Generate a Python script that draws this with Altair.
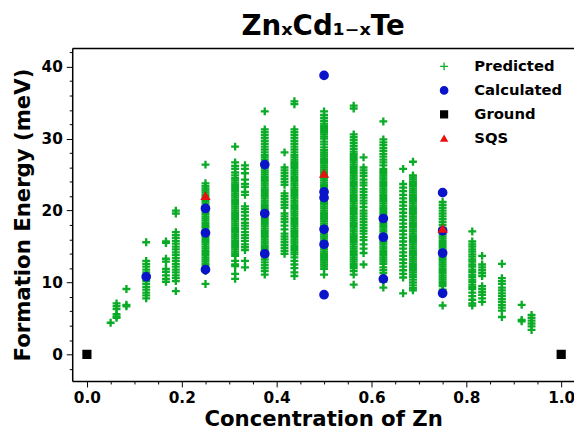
import altair as alt
import pandas as pd

title_text = "ZnₓCd₁₋ₓTe"
x_title = "Concentration of Zn"
y_title = "Formation Energy (meV)"

series_names = ["Predicted", "Calculated", "Ground", "SQS"]
series_colors = ["#0aab26", "#0a14c8", "#000000", "#e81010"]
plus_path = "M-1,0H1M0,-1V1"
series_shapes = [plus_path, "circle", "square", "triangle-up"]
series_sizes = [64, 40, 84, 46]

x_major = [0.0, 0.2, 0.4, 0.6, 0.8, 1.0]
x_minor = [0.05, 0.1, 0.15, 0.25, 0.3, 0.35, 0.45, 0.5, 0.55, 0.65, 0.7, 0.75, 0.85, 0.9, 0.95]
y_major = [0, 10, 20, 30, 40]
y_minor = [-2, 2, 4, 6, 8, 12, 14, 16, 18, 22, 24, 26, 28, 32, 34, 36, 38, 42]

# Predicted (ML) energies, one list per Zn concentration
pred_conc = [0.05, 0.0625, 0.0833, 0.125, 0.1667, 0.1875, 0.25, 0.3125, 0.3333,
             0.375, 0.4167, 0.4375, 0.5, 0.5625, 0.5833, 0.625, 0.6667, 0.6875,
             0.75, 0.8125, 0.8333, 0.875, 0.9167, 0.9375]

pred_energy = [
    [4.4],
    [7.1, 6.7, 6.3, 5.6, 5.3, 5.1],
    [9.1, 6.9, 6.7],
    [15.6, 13.0, 12.6, 12.2, 11.8, 11.4, 11.0, 10.6, 10.2, 9.8, 9.4, 9.0, 8.6, 8.2, 7.8],
    [15.7, 15.5, 13.3, 12.9, 11.9, 11.5, 11.0, 10.5, 10.1],
    [20.0, 19.6, 17.0, 16.6, 16.2, 15.8, 15.4, 15.0, 14.6, 14.2, 13.8, 13.4, 13.0,
     12.6, 12.2, 11.8, 11.4, 11.0, 10.6, 10.2, 8.8],
    [26.4, 23.8, 23.4, 23.1, 22.8, 22.5, 22.2, 21.9, 21.6, 21.3, 21.0, 20.7, 20.4,
     20.1, 19.8, 19.5, 19.2, 18.9, 18.6, 18.3, 18.0, 17.7, 17.4, 17.1, 16.8, 16.5,
     16.2, 15.9, 15.6, 15.3, 15.0, 14.7, 14.4, 14.1, 13.8, 13.5, 13.2, 12.9, 12.6,
     12.3, 12.0, 11.6, 9.8],
    [28.9, 26.7, 26.2, 25.8, 25.3, 24.9, 24.5, 24.2, 23.9, 23.6, 23.3, 23.0, 22.7,
     22.4, 22.1, 21.8, 21.5, 21.2, 20.9, 20.6, 20.3, 20.0, 19.7, 19.4, 19.1, 18.8,
     18.5, 18.2, 17.9, 17.6, 17.3, 17.0, 16.7, 16.4, 16.1, 15.8, 15.5, 15.2, 14.9,
     14.6, 14.3, 14.0, 13.7, 13.0, 12.5, 12.3, 11.2, 10.5],
    [26.3, 25.8, 25.2, 24.3, 23.7, 23.3, 22.6, 22.2, 20.6, 20.2, 19.8, 19.3, 18.8,
     18.3, 17.9, 17.5, 17.0, 16.6, 16.2, 15.8, 15.3, 14.9, 14.5, 13.0, 12.1],
    [33.8, 31.3, 30.9, 30.5, 30.1, 29.7, 29.3, 28.9, 28.5, 28.1, 27.7, 27.4, 27.1,
     26.8, 26.5, 26.2, 25.9, 25.6, 25.3, 25.0, 24.7, 24.4, 24.1, 23.8, 23.5, 23.2,
     22.9, 22.6, 22.3, 22.0, 21.7, 21.4, 21.1, 20.8, 20.5, 20.2, 19.9, 19.6, 19.3,
     19.0, 18.7, 18.4, 18.1, 17.8, 17.5, 17.2, 16.9, 16.6, 16.3, 16.0, 15.7, 15.4,
     15.1, 14.8, 14.5, 14.2, 13.9, 13.6, 13.2, 12.8, 12.4, 12.0, 11.6, 11.1],
    [28.1, 26.0, 25.6, 25.2, 24.8, 24.4, 24.0, 23.6, 22.4, 22.0, 21.6, 21.2, 20.8,
     20.4, 19.6, 19.2, 18.8, 18.4, 17.9, 17.4, 16.8, 16.4, 16.0, 15.6, 15.2, 14.8,
     14.4, 14.0],
    [35.2, 34.8, 31.3, 30.9, 30.5, 30.1, 29.7, 29.3, 28.9, 28.5, 28.1, 27.7, 27.4,
     27.1, 26.8, 26.5, 26.2, 25.9, 25.6, 25.3, 25.0, 24.7, 24.4, 24.1, 23.8, 23.5,
     23.2, 22.9, 22.6, 22.3, 22.0, 21.7, 21.4, 21.1, 20.8, 20.5, 20.2, 19.9, 19.6,
     19.3, 19.0, 18.7, 18.4, 18.1, 17.8, 17.5, 17.2, 16.9, 16.6, 16.3, 16.0, 15.7,
     15.4, 15.1, 14.8, 14.5, 14.2, 13.9, 13.5, 13.0, 12.5, 12.0, 11.4, 10.9],
    [33.8, 33.3, 32.9, 32.5, 32.1, 31.8, 31.5, 31.2, 30.9, 30.6, 30.3, 30.0, 29.6,
     29.2, 28.8, 28.4, 28.1, 27.8, 27.5, 27.2, 26.9, 26.6, 26.3, 26.0, 25.7, 25.4,
     25.1, 24.8, 24.5, 24.2, 23.9, 23.6, 23.3, 23.0, 22.7, 22.4, 22.1, 21.8, 21.5,
     21.2, 20.9, 20.6, 20.3, 20.0, 19.7, 19.4, 19.1, 18.8, 18.5, 18.2, 17.9, 17.6,
     17.3, 17.0, 16.7, 16.4, 16.1, 15.8, 15.5, 15.2, 14.9, 14.6, 14.3, 14.0, 13.7,
     13.4, 13.1, 12.8, 12.5, 12.2, 11.9, 11.1],
    [34.6, 34.2, 30.6, 30.2, 29.8, 29.4, 29.0, 28.6, 28.2, 27.9, 27.6, 27.3, 27.0,
     26.7, 26.4, 26.1, 25.8, 25.5, 25.2, 24.9, 24.6, 24.3, 24.0, 23.7, 23.4, 23.1,
     22.8, 22.5, 22.2, 21.9, 21.6, 21.3, 21.0, 20.7, 20.4, 20.1, 19.8, 19.5, 19.2,
     18.9, 18.6, 18.3, 18.0, 17.7, 17.4, 17.1, 16.8, 16.5, 16.2, 15.9, 15.6, 15.3,
     15.0, 14.7, 14.4, 14.1, 13.8, 13.5, 13.2, 12.9, 12.6, 12.3, 12.0, 11.6, 11.1,
     9.7],
    [27.4, 26.0, 25.6, 25.2, 24.8, 24.3, 23.9, 23.5, 23.0, 22.6, 22.2, 21.8, 21.4,
     21.0, 20.5, 20.0, 19.6, 19.2, 18.8, 18.4, 18.0, 17.6, 17.2, 16.8, 16.3, 15.9,
     15.3, 14.7, 14.1, 12.5],
    [32.4, 29.9, 29.5, 29.1, 28.7, 28.3, 27.9, 27.5, 27.1, 26.7, 26.3, 25.8, 25.5,
     25.2, 24.9, 24.6, 24.3, 24.0, 23.7, 23.4, 23.1, 22.8, 22.5, 22.2, 21.9, 21.6,
     21.3, 21.0, 20.7, 20.4, 20.1, 19.8, 19.5, 19.2, 18.9, 18.6, 18.3, 18.0, 17.7,
     17.4, 17.1, 16.8, 16.5, 16.2, 15.9, 15.6, 15.3, 15.0, 14.7, 14.4, 14.1, 13.8,
     13.5, 13.2, 12.9, 12.6, 12.1, 11.7, 11.3, 10.6, 10.1, 9.3],
    [25.8, 23.7, 23.2, 22.7, 22.2, 21.7, 21.2, 20.7, 20.2, 19.7, 19.2, 18.7, 18.2,
     17.7, 17.2, 16.7, 16.2, 15.7, 15.2, 14.7, 14.2, 13.7, 13.2, 12.7, 12.2, 11.7,
     11.2, 10.7, 8.5],
    [26.8, 24.9, 24.6, 24.3, 24.0, 23.7, 23.4, 23.1, 22.8, 22.5, 22.2, 21.9, 21.6,
     21.3, 21.0, 20.7, 20.4, 20.1, 19.8, 19.5, 19.2, 18.9, 18.6, 18.3, 18.0, 17.7,
     17.4, 17.1, 16.8, 16.5, 16.2, 15.9, 15.6, 15.3, 15.0, 14.7, 14.4, 14.1, 13.8,
     13.5, 13.2, 12.9, 12.6, 12.3, 12.0, 11.7, 11.4, 11.1, 10.8, 10.4, 10.0, 9.6,
     9.2, 8.9],
    [21.2, 20.8, 20.4, 20.0, 19.6, 19.2, 18.8, 18.4, 18.0, 17.6, 17.3, 17.0, 16.7,
     16.4, 16.1, 15.8, 15.5, 15.2, 14.9, 14.6, 14.3, 14.0, 13.7, 13.4, 13.1, 12.8,
     12.5, 12.2, 11.9, 11.6, 11.3, 11.0, 10.7, 10.4, 10.1, 9.8, 9.5, 9.0, 6.8],
    [17.1, 15.7, 15.3, 15.0, 14.6, 14.3, 13.9, 13.6, 13.2, 12.9, 12.5, 12.2, 11.8,
     11.5, 11.1, 10.8, 10.4, 10.1, 9.7, 9.4, 9.1, 8.6, 8.1, 7.6, 7.1, 6.8],
    [13.7, 12.5, 12.1, 11.7, 11.3, 10.9, 9.5, 9.1, 8.7, 8.3, 7.8, 7.3],
    [12.6, 10.6, 10.2, 9.8, 9.3, 8.9, 8.5, 8.1, 7.7, 7.3, 6.9, 6.5, 6.1, 5.2],
    [6.9, 4.8, 4.6],
    [5.5, 5.1, 4.7, 4.3, 3.9, 3.4],
]

# DFT-calculated structures
calc_conc = [0.125, 0.25, 0.25, 0.25, 0.375, 0.375, 0.375, 0.5, 0.5, 0.5, 0.5, 0.5, 0.5,
             0.625, 0.625, 0.625, 0.75, 0.75, 0.75, 0.75]
calc_energy = [10.8, 20.3, 16.9, 11.8, 26.4, 19.6, 14.0, 38.8, 22.6, 21.8, 17.4, 15.3, 8.3,
               18.9, 16.3, 10.5, 22.5, 17.2, 14.1, 8.5]

# Ground states (pure end members)
ground_conc = [0.0, 1.0]
ground_energy = [0.0, 0.0]

# SQS structures
sqs_conc = [0.25, 0.5, 0.75]
sqs_energy = [22.0, 25.1, 17.45]

rows = []
for c, ys in zip(pred_conc, pred_energy):
    for e in ys:
        rows.append({"conc": c, "energy": e, "type": "Predicted"})
for c, e in zip(calc_conc, calc_energy):
    rows.append({"conc": c, "energy": e, "type": "Calculated"})
for c, e in zip(ground_conc, ground_energy):
    rows.append({"conc": c, "energy": e, "type": "Ground"})
for c, e in zip(sqs_conc, sqs_energy):
    rows.append({"conc": c, "energy": e, "type": "SQS"})
df = pd.DataFrame(rows)

FONT = "DejaVu Sans"
x_scale = alt.Scale(domain=[-0.031, 1.027], nice=False, zero=False)
y_scale = alt.Scale(domain=[-3.7, 42.6], nice=False, zero=False)

legend = alt.Legend(
    title=None, orient="none", legendX=369, legendY=11,
    labelFont=FONT, labelFontWeight="bold", labelFontSize=15,
    labelColor="black", symbolSize=62, symbolStrokeWidth=1.3,
    labelOffset=23, rowPadding=8.3, padding=0)

base = alt.Chart(df)

points = base.mark_point(filled=True, strokeWidth=2.35, opacity=1).encode(
    x=alt.X("conc:Q", scale=x_scale, axis=alt.Axis(
        orient="bottom", values=x_major, format=".1f", title=x_title,
        labelFont=FONT, labelFontWeight="bold", labelFontSize=15.5, labelColor="black",
        labelPadding=4, tickSize=6, tickColor="black", tickWidth=1,
        domainColor="black", domainWidth=1.5, grid=False,
        titleFont=FONT, titleFontWeight="bold", titleFontSize=21.5, titleColor="black",
        titlePadding=3)),
    y=alt.Y("energy:Q", scale=y_scale, axis=alt.Axis(
        orient="left", values=y_major, format="d", title=y_title,
        labelFont=FONT, labelFontWeight="bold", labelFontSize=15.5, labelColor="black",
        labelPadding=4, tickSize=6, tickColor="black", tickWidth=1,
        domainColor="black", domainWidth=1.5, grid=False,
        titleFont=FONT, titleFontWeight="bold", titleFontSize=21.5, titleColor="black",
        titlePadding=7)),
    color=alt.Color("type:N", scale=alt.Scale(domain=series_names, range=series_colors),
                    legend=legend),
    shape=alt.Shape("type:N", scale=alt.Scale(domain=series_names, range=series_shapes),
                    legend=legend),
    stroke=alt.Stroke("type:N", scale=alt.Scale(domain=series_names, range=series_colors),
                      legend=legend),
    size=alt.Size("type:N", scale=alt.Scale(domain=series_names, range=series_sizes), legend=None),
)

minor = base.mark_point(opacity=0, size=0).encode(
    x=alt.X("conc:Q", scale=x_scale, axis=alt.Axis(
        orient="bottom", values=x_minor, labels=False, domain=False, grid=False,
        tickSize=3, tickColor="black", tickWidth=1, title=None)),
    y=alt.Y("energy:Q", scale=y_scale, axis=alt.Axis(
        orient="left", values=y_minor, labels=False, domain=False, grid=False,
        tickSize=3, tickColor="black", tickWidth=1, title=None)),
)

top = base.mark_point(opacity=0, size=0).encode(
    x=alt.X("conc:Q", scale=x_scale, axis=alt.Axis(
        orient="top", labels=False, ticks=False, domain=True, grid=False,
        domainColor="black", domainWidth=1.5, title=None)),
    y=alt.Y("energy:Q", scale=y_scale, axis=None),
)

chart = alt.layer(points, minor, top).resolve_axis(
    x="independent", y="independent"
).properties(
    width=508, height=337,
    title=alt.TitleParams(title_text, font=FONT, fontWeight="bold", fontSize=28,
                          color="black", anchor="middle", offset=7),
    autosize=alt.AutoSizeParams(type="none"),
    padding={"left": 65, "top": 38, "right": 0, "bottom": 48},
).configure_view(stroke=None).configure(background="white")

chart.save("out.html", embed_options={"renderer": "svg", "actions": False})
